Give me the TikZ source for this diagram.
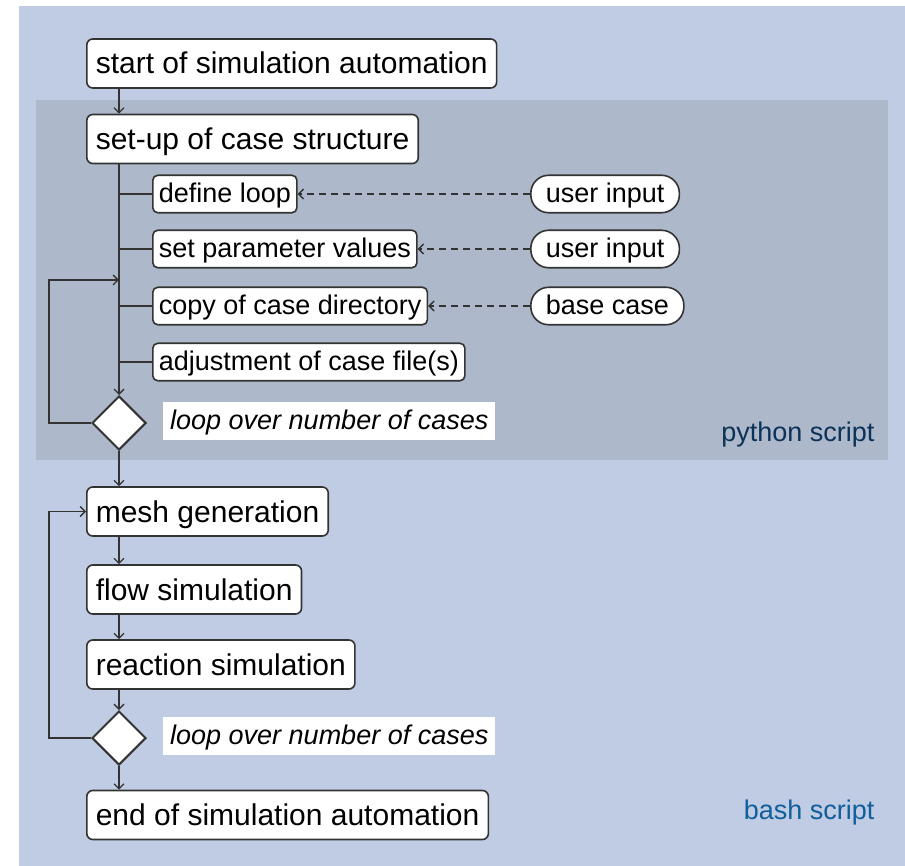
\documentclass[tikz,border=0pt]{standalone}
\usepackage{fontspec}
\setmainfont{Liberation Sans}
\usetikzlibrary{arrows.meta,shapes.geometric}
\definecolor{outerbg}{RGB}{192,204,227}
\definecolor{innerbg}{RGB}{173,184,203}
\definecolor{pyc}{RGB}{12,50,88}
\definecolor{bashc}{RGB}{16,94,156}
\definecolor{linec}{RGB}{51,51,51}
\begin{document}
\begin{tikzpicture}[x=1pt,y=-1pt,
 mainbox/.style={draw=linec, line width=1.6pt, fill=white, rounded corners=6pt,
   font=\fontsize{30}{36}\selectfont, text height=25pt, text depth=4pt,
   inner xsep=9pt, inner ysep=10pt, anchor=west},
 subbox/.style={draw=linec, line width=1.6pt, fill=white, rounded corners=5pt,
   font=\fontsize{27}{32}\selectfont, text height=22pt, text depth=4.5pt,
   inner xsep=6pt, inner ysep=5.5pt, anchor=west},
 pill/.style={draw=linec, line width=1.6pt, fill=white, rounded corners=18pt,
   font=\fontsize{27}{32}\selectfont, text height=22pt, text depth=4.5pt,
   inner xsep=15pt, inner ysep=5.5pt, anchor=west},
 lbl/.style={fill=white, font=\itshape\fontsize{27}{32}\selectfont,
   text height=22pt, text depth=4.5pt, inner xsep=7pt, inner ysep=6pt, anchor=west},
 dia/.style={diamond, draw=linec, line width=2pt, fill=white,
   minimum width=54pt, minimum height=54pt, inner sep=0pt},
 arr/.style={draw=linec, line width=1.3pt, -{Straight Barb[length=5pt,width=10pt]}},
 plain/.style={draw=linec, line width=1.3pt},
 dasharr/.style={arr, dash pattern=on 7pt off 5pt},
 region/.style={font=\fontsize{27}{32}\selectfont, anchor=east}
]
\useasboundingbox (0,0) rectangle (905,866);
\fill[outerbg] (19,6) rectangle (905,866);
\fill[innerbg] (36,100) rectangle (888,460);

\node[mainbox] (start) at (86,63.5) {start of simulation automation};
\node[mainbox] (setup) at (86,139) {set-up of case structure};
\node[subbox] (def) at (152,194) {define loop};
\node[subbox] (par) at (152,249) {set parameter values};
\node[subbox] (copy) at (152,306) {copy of case directory};
\node[subbox] (adj) at (152,362) {adjustment of case file(s)};
\node[pill] (ui1) at (530,194) {user input};
\node[pill] (ui2) at (530,249) {user input};
\node[pill] (base) at (530,306) {base case};
\node[dia] (d1) at (119,423) {};
\node[lbl] (l1) at (163,421) {loop over number of cases};
\node[region, text=pyc] (py) at (878,435) {python script};

\node[mainbox] (mesh) at (86,511.5) {mesh generation};
\node[mainbox] (flow) at (86,589.5) {flow simulation};
\node[mainbox] (reac) at (86,664.5) {reaction simulation};
\node[dia] (d2) at (119,738) {};
\node[lbl] (l2) at (163,736) {loop over number of cases};
\node[mainbox] (end) at (86,815) {end of simulation automation};
\node[region, text=bashc] (bash) at (878,813) {bash script};

\coordinate (lp1) at (119,280);

\draw[arr] (start.south -| d1) -- (setup.north -| d1);
\draw[arr] (setup.south -| d1) -- (d1.north);
\draw[plain] (def.west) -- (def.west -| d1);
\draw[plain] (par.west) -- (par.west -| d1);
\draw[plain] (copy.west) -- (copy.west -| d1);
\draw[plain] (adj.west) -- (adj.west -| d1);
\draw[arr] (d1.west) -- ++(-42,0) |- (lp1);
\draw[dasharr] (ui1.west) -- (def.east);
\draw[dasharr] (ui2.west) -- (par.east);
\draw[dasharr] (base.west) -- (copy.east);

\draw[arr] (d1.south) -- (mesh.north -| d1);
\draw[arr] (mesh.south -| d1) -- (flow.north -| d1);
\draw[arr] (flow.south -| d1) -- (reac.north -| d1);
\draw[arr] (reac.south -| d1) -- (d2.north);
\draw[arr] (d2.south) -- (end.north -| d1);
\draw[arr] (d2.west) -- ++(-42,0) |- (mesh.west);
\end{tikzpicture}
\end{document}
